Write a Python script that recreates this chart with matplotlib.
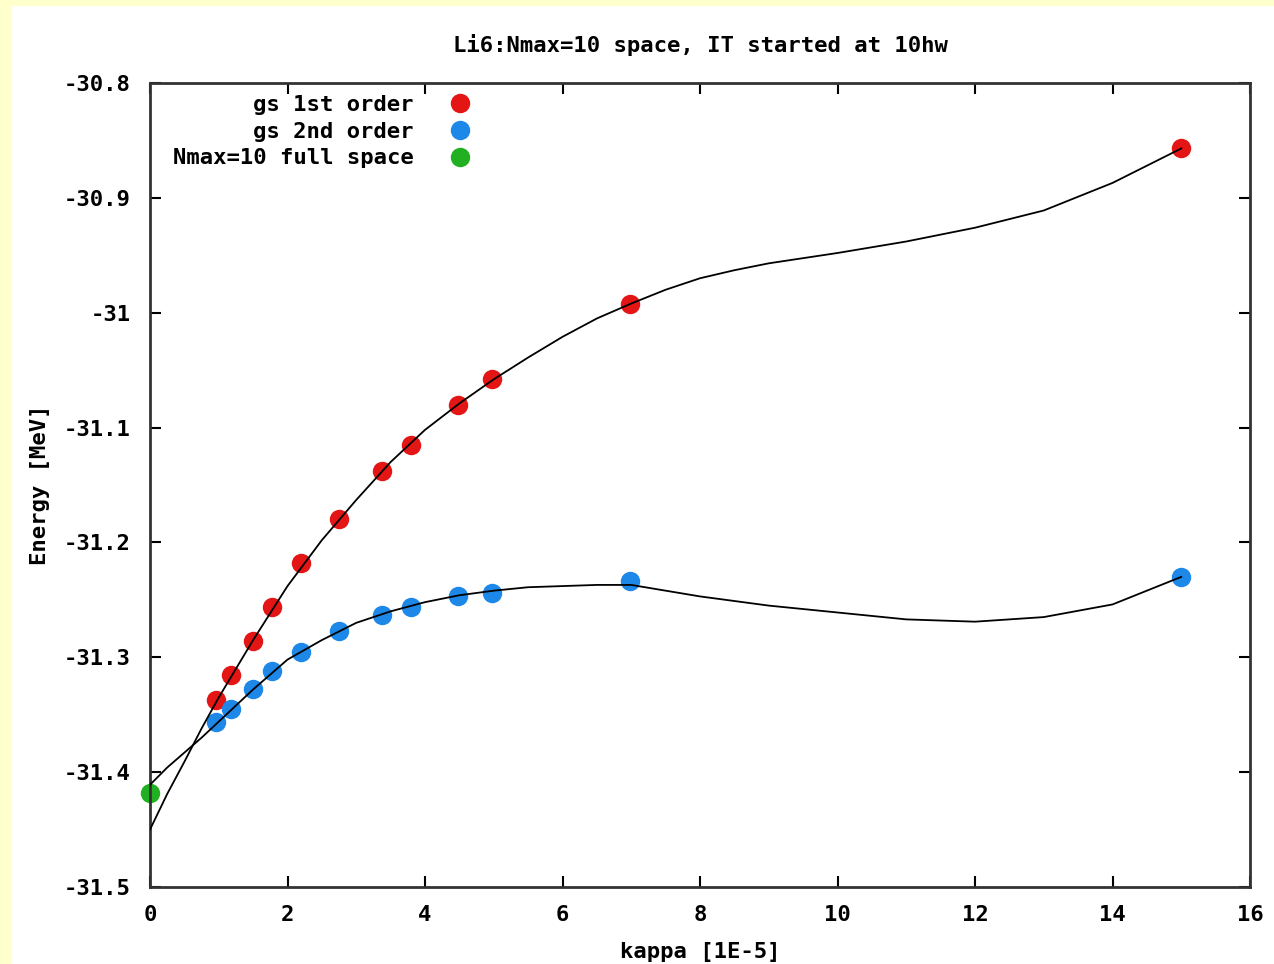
import matplotlib
matplotlib.use("Agg")
import matplotlib.pyplot as plt
from matplotlib.patches import Rectangle
from matplotlib.ticker import FuncFormatter

# data points
kappa = [0.96, 1.18, 1.5, 1.77, 2.2, 2.75, 3.37, 3.8, 4.48, 4.97, 6.98, 15.0]
gs_1st = [-31.337, -31.315, -31.286, -31.256, -31.218, -31.180,
          -31.138, -31.115, -31.080, -31.058, -30.992, -30.857]
gs_2nd = [-31.356, -31.345, -31.328, -31.312, -31.295, -31.277,
          -31.263, -31.256, -31.247, -31.244, -31.234, -31.230]
full_kappa = [0.0]
full_space = [-31.418]

# fitted curves
fit_x = [0, 0.25, 0.5, 0.75, 1, 1.5, 2, 2.5, 3, 3.5, 4, 4.5, 5, 5.5, 6, 6.5, 7,
         7.5, 8, 8.5, 9, 10, 11, 12, 13, 14, 15]
fit_1st = [-31.450, -31.419, -31.391, -31.362, -31.335, -31.285, -31.238,
           -31.198, -31.163, -31.130, -31.102, -31.079, -31.058, -31.039,
           -31.021, -31.005, -30.992, -30.980, -30.970, -30.963, -30.957,
           -30.948, -30.938, -30.926, -30.911, -30.887, -30.857]
fit_2nd = [-31.411, -31.396, -31.383, -31.370, -31.356, -31.328, -31.302,
           -31.285, -31.270, -31.260, -31.252, -31.246, -31.242, -31.239,
           -31.238, -31.237, -31.237, -31.242, -31.247, -31.251, -31.255,
           -31.261, -31.267, -31.269, -31.265, -31.254, -31.230]

xticks = [0, 2, 4, 6, 8, 10, 12, 14, 16]
yticks = [-31.5, -31.4, -31.3, -31.2, -31.1, -31.0, -30.9, -30.8]

plt.rcParams['font.family'] = 'DejaVu Sans Mono'
plt.rcParams['font.weight'] = 'bold'
fs = 16

fig = plt.figure(figsize=(12.74, 9.64), dpi=100)
fig.patch.set_facecolor('#ffffcc')
fig.patches.append(Rectangle((12 / 1274, 0), 1, 1 - 6 / 964, transform=fig.transFigure,
                             facecolor='white', edgecolor='none', zorder=-10))

ax = fig.add_axes([150 / 1274, 77 / 964, 1100 / 1274, 804 / 964])

ax.plot(fit_x, fit_1st, color='black', lw=1.3, zorder=3)
ax.plot(fit_x, fit_2nd, color='black', lw=1.3, zorder=3)
ax.plot(kappa, gs_1st, 'o', color='#e31515', ms=14, mew=0, label='gs 1st order', zorder=2)
ax.plot(kappa, gs_2nd, 'o', color='#1e88e8', ms=14, mew=0, label='gs 2nd order', zorder=2)
ax.plot(full_kappa, full_space, 'o', color='#22b022', ms=14, mew=0,
        label='Nmax=10 full space', zorder=2, clip_on=False)

ax.set_xlim(0, 16)
ax.set_ylim(-31.5, -30.8)
ax.set_xticks(xticks)
ax.set_yticks(yticks)
ax.yaxis.set_major_formatter(FuncFormatter(lambda v, p: '%g' % v))
ax.tick_params(direction='in', length=8, width=1.5, top=True, right=True,
               labelsize=fs, pad=13)
ax.tick_params(axis='y', pad=14)
for s in ax.spines.values():
    s.set_linewidth(2)
    s.set_color('#333333')

ax.set_title('Li6:Nmax=10 space, IT started at 10hw', fontsize=fs, fontweight='bold', pad=22)
ax.set_xlabel('kappa [1E-5]', fontsize=fs, fontweight='bold', labelpad=12)
ax.set_ylabel('Energy [MeV]', fontsize=fs, fontweight='bold', labelpad=10)

leg = ax.legend(loc='upper right', bbox_to_anchor=(0.302, 0.985), frameon=False,
                markerfirst=False, numpoints=1, fontsize=fs, borderpad=0,
                borderaxespad=0, handletextpad=1.1, labelspacing=0.3)

fig.savefig('out.png', dpi=100, facecolor=fig.get_facecolor())
